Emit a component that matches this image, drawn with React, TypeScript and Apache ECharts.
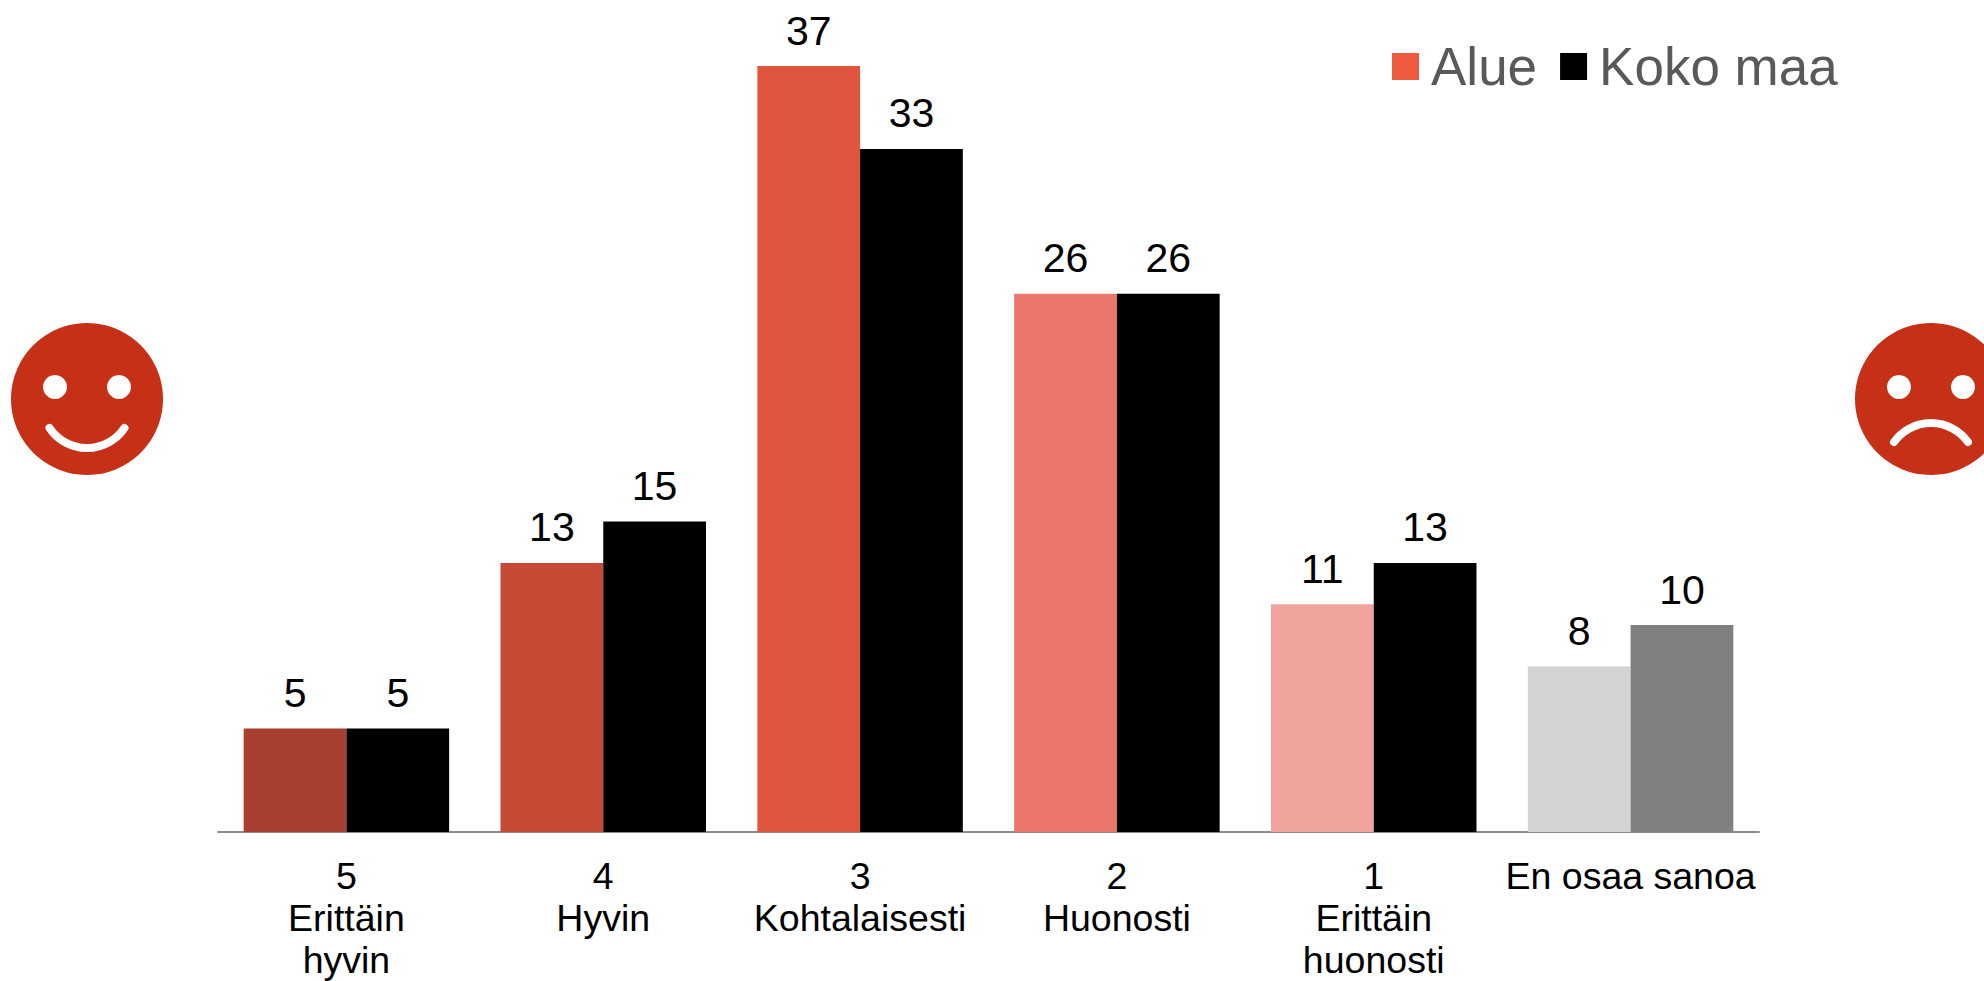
import React, { useEffect, useRef } from "react";
import * as echarts from "echarts";

const categories = ["5\nErittäin\nhyvin", "4\nHyvin", "3\nKohtalaisesti", "2\nHuonosti", "1\nErittäin\nhuonosti", "En osaa sanoa"];
const alueValues = [5, 13, 37, 26, 11, 8];
const kokoMaaValues = [5, 15, 33, 26, 13, 10];
const alueColors = ["#A93F2E", "#C74A37", "#DF553D", "#EC7669", "#F1A39D", "#D3D3D3"];
const kokoMaaColors = ["#000000", "#000000", "#000000", "#000000", "#000000", "#808080"];
const FONT = "'Liberation Sans', Arial, sans-serif";
const RED = "#C63017";

export default function App() {
  const ref = useRef<HTMLDivElement>(null);
  useEffect(() => {
    document.body.style.margin = "0";
    const chart = echarts.init(ref.current!, undefined, { renderer: "svg" });
    const label = { show: true, position: "top", distance: 15, fontSize: 41, color: "#000", fontFamily: FONT };
    const stroke = { stroke: "#fff", fill: "none", lineWidth: 8, lineCap: "round" };
    chart.setOption({
      animation: false,
      backgroundColor: "#fff",
      grid: { left: 218, right: 225, top: 4, bottom: 149, containLabel: false, outerBoundsMode: "none" },
      legend: {
        left: 1392,
        top: 40,
        padding: 0,
        itemWidth: 27,
        itemHeight: 27,
        itemGap: 23,
        icon: "rect",
        textStyle: { fontSize: 53, color: "#595959", fontFamily: FONT, padding: [0, 0, 0, 7] },
        data: ["Alue", "Koko maa"],
      },
      xAxis: {
        type: "category",
        data: categories,
        axisLine: { show: true, lineStyle: { color: "#8C8C8C", width: 2 } },
        axisTick: { show: false },
        axisLabel: { fontSize: 37.5, lineHeight: 42, color: "#000", margin: 23, fontFamily: FONT, interval: 0 },
      },
      yAxis: { type: "value", min: 0, max: 40, show: false, splitLine: { show: false } },
      series: [
        {
          name: "Alue",
          type: "bar",
          barGap: 0,
          barCategoryGap: "20%",
          itemStyle: { color: "#EE5A3E" },
          label,
          data: alueValues.map((value, i) => ({ value, itemStyle: { color: alueColors[i] } })),
        },
        {
          name: "Koko maa",
          type: "bar",
          itemStyle: { color: "#000" },
          label,
          data: kokoMaaValues.map((value, i) => ({ value, itemStyle: { color: kokoMaaColors[i] } })),
        },
      ],
      graphic: [
        { type: "circle", silent: true, shape: { cx: 87, cy: 399, r: 76 }, style: { fill: RED } },
        { type: "circle", silent: true, shape: { cx: 55, cy: 387, r: 12 }, style: { fill: "#fff" } },
        { type: "circle", silent: true, shape: { cx: 119, cy: 387, r: 12 }, style: { fill: "#fff" } },
        { type: "arc", silent: true, shape: { cx: 87, cy: 403, r: 45, startAngle: 0.588, endAngle: 2.554, clockwise: true }, style: stroke },
        { type: "circle", silent: true, shape: { cx: 1931, cy: 399, r: 76 }, style: { fill: RED } },
        { type: "circle", silent: true, shape: { cx: 1899, cy: 387, r: 12 }, style: { fill: "#fff" } },
        { type: "circle", silent: true, shape: { cx: 1963, cy: 387, r: 12 }, style: { fill: "#fff" } },
        { type: "arc", silent: true, shape: { cx: 1931, cy: 468.5, r: 45.5, startAngle: 3.763, endAngle: 5.662, clockwise: true }, style: stroke },
      ],
    });
    return () => chart.dispose();
  }, []);
  return <div ref={ref} style={{ position: "absolute", left: 0, top: 0, width: 1984, height: 981 }} />;
}
